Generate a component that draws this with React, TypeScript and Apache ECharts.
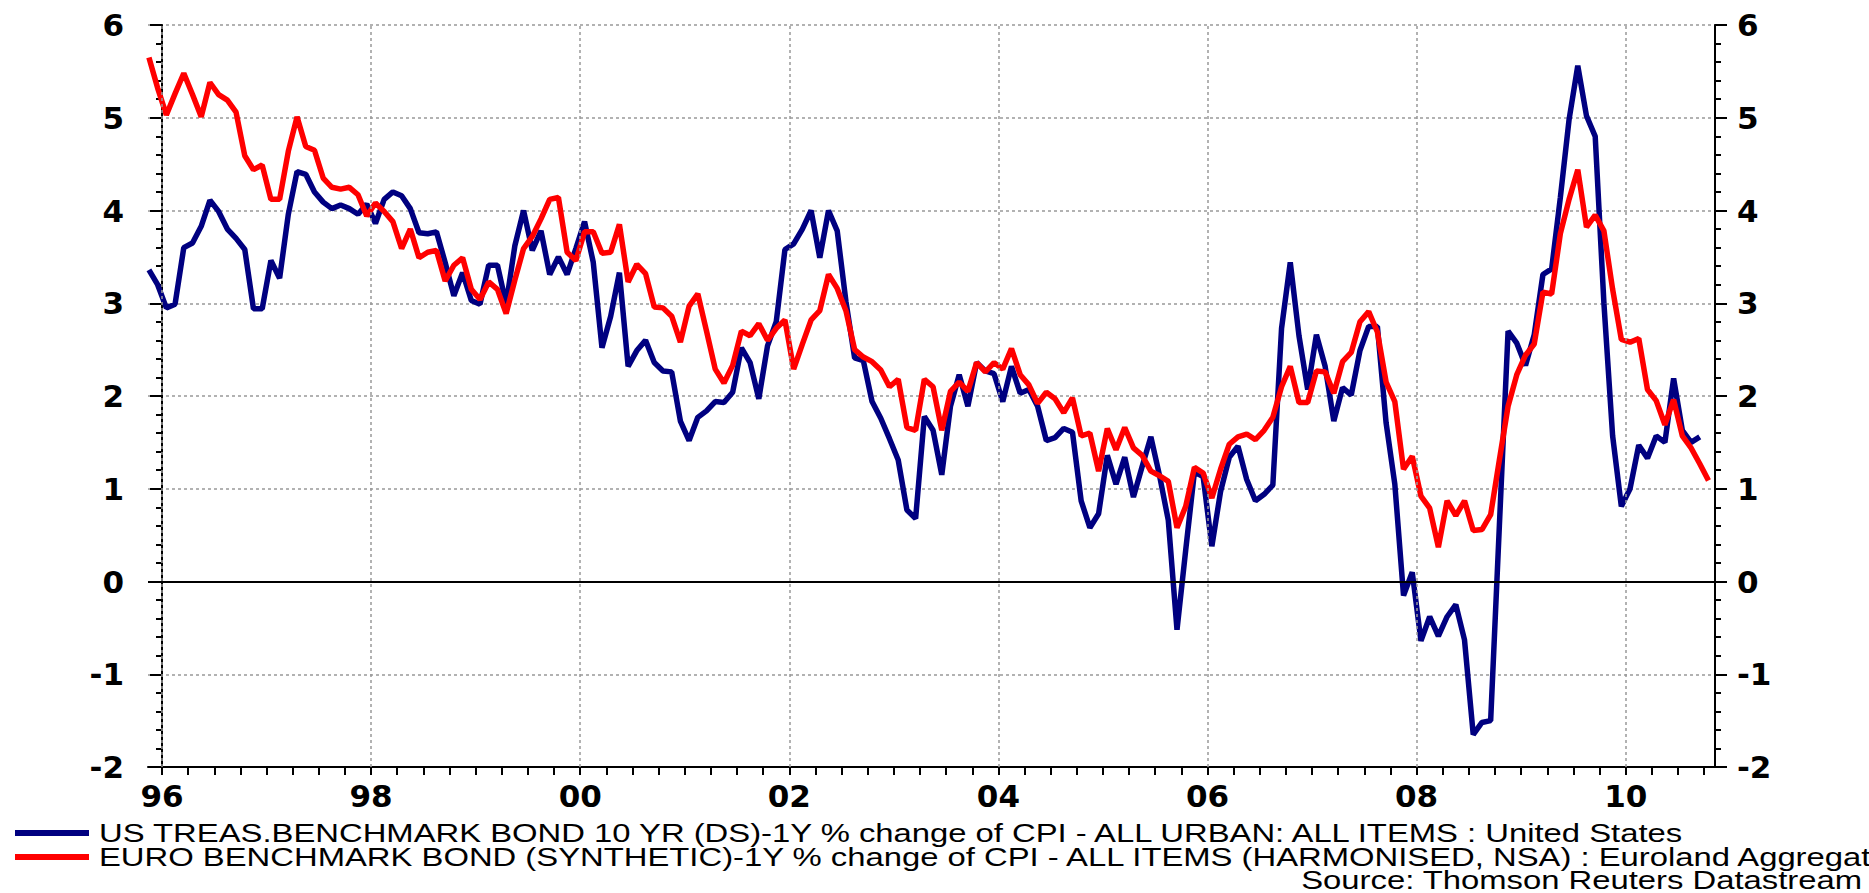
import React, { useEffect, useRef } from "react";
import * as echarts from "echarts";

// Months counted from Jan 1996 (0 = Jan 96); first observation is Nov 1995, plotted mid-month.
const FIRST_MONTH = -2;

const usValues = [
  3.36, 3.2, 2.95, 2.99, 3.6, 3.65, 3.83, 4.11, 3.99, 3.8, 3.7, 3.58, 2.94, 2.94,
  3.46, 3.27, 3.96, 4.42, 4.39, 4.2, 4.09, 4.02, 4.06, 4.02, 3.96, 4.07,
  3.86, 4.12, 4.2, 4.16, 4.02, 3.76, 3.75, 3.77, 3.44, 3.08, 3.33, 3.03,
  2.99, 3.41, 3.41, 2.99, 3.62, 4.0, 3.57, 3.78, 3.31, 3.5, 3.31, 3.59,
  3.88, 3.44, 2.52, 2.86, 3.33, 2.32, 2.49, 2.6, 2.36, 2.27, 2.26, 1.73,
  1.52, 1.77, 1.84, 1.94, 1.93, 2.04, 2.52, 2.36, 1.97, 2.54, 2.8, 3.58,
  3.64, 3.8, 4.0, 3.49, 4.0, 3.78, 3.02, 2.41, 2.38, 1.94, 1.76, 1.54,
  1.31, 0.77, 0.68, 1.78, 1.63, 1.15, 1.89, 2.23, 1.89, 2.36, 2.27, 2.24,
  1.94, 2.32, 2.03, 2.07, 1.89, 1.52, 1.55, 1.65, 1.61, 0.87, 0.58, 0.73,
  1.36, 1.05, 1.34, 0.91, 1.24, 1.56, 1.14, 0.66, -0.52, 0.34, 1.18, 1.13,
  0.38, 0.97, 1.34, 1.46, 1.1, 0.87, 0.94, 1.04, 2.73, 3.44, 2.65, 2.07,
  2.66, 2.32, 1.73, 2.09, 2.01, 2.49, 2.75, 2.75, 1.71, 1.05, -0.15, 0.1,
  -0.64, -0.38, -0.59, -0.38, -0.25, -0.63, -1.65, -1.52, -1.5, 0.6, 2.7, 2.57,
  2.33, 2.66, 3.31, 3.37, 4.14, 4.98, 5.56, 5.02, 4.8, 3.0, 1.57, 0.81,
  1.0, 1.47, 1.33, 1.57, 1.5, 2.19, 1.63, 1.5, 1.56,
];

const euroValues = [
  5.65, 5.32, 5.03, 5.26, 5.48, 5.25, 5.01, 5.38, 5.25, 5.19, 5.06, 4.59, 4.44, 4.49,
  4.12, 4.12, 4.64, 5.01, 4.69, 4.65, 4.35, 4.25, 4.23, 4.25, 4.17, 3.94,
  4.08, 3.99, 3.88, 3.59, 3.8, 3.49, 3.55, 3.57, 3.24, 3.41, 3.49, 3.15,
  3.04, 3.23, 3.15, 2.89, 3.25, 3.59, 3.72, 3.91, 4.12, 4.14, 3.55, 3.46,
  3.77, 3.77, 3.54, 3.55, 3.85, 3.23, 3.42, 3.32, 2.96, 2.95, 2.86, 2.58,
  2.97, 3.1, 2.7, 2.29, 2.14, 2.33, 2.7, 2.65, 2.78, 2.6, 2.73, 2.82,
  2.29, 2.56, 2.82, 2.92, 3.31, 3.16, 2.92, 2.5, 2.42, 2.37, 2.28, 2.1,
  2.18, 1.66, 1.63, 2.18, 2.1, 1.63, 2.05, 2.15, 2.05, 2.36, 2.26, 2.36,
  2.29, 2.51, 2.23, 2.12, 1.92, 2.04, 1.97, 1.82, 1.98, 1.57, 1.6, 1.19,
  1.65, 1.42, 1.66, 1.44, 1.36, 1.19, 1.14, 1.08, 0.58, 0.81, 1.23, 1.17,
  0.9, 1.21, 1.48, 1.56, 1.59, 1.53, 1.63, 1.77, 2.1, 2.32, 1.93, 1.93,
  2.27, 2.26, 2.03, 2.37, 2.47, 2.8, 2.91, 2.69, 2.15, 1.94, 1.21, 1.35,
  0.92, 0.79, 0.37, 0.87, 0.71, 0.87, 0.55, 0.56, 0.72, 1.31, 1.89, 2.23,
  2.44, 2.56, 3.12, 3.1, 3.75, 4.12, 4.44, 3.82, 3.95, 3.78, 3.15, 2.61,
  2.58, 2.62, 2.07, 1.95, 1.69, 1.96, 1.57, 1.44, 1.27, 1.09,
];

// x-axis labels every two years (months since Jan 1996) and quarterly ticks
const xLabelMonths = [0, 24, 48, 72, 96, 120, 144, 168];
const xTickMonths: number[] = [];
for (let m = 0; m <= 177; m += 3) xTickMonths.push(m);

const US_NAME =
  "US TREAS.BENCHMARK BOND 10 YR (DS)-1Y % change of CPI - ALL URBAN: ALL ITEMS : United States";
const EURO_NAME =
  "EURO BENCHMARK BOND (SYNTHETIC)-1Y % change of CPI - ALL ITEMS (HARMONISED, NSA) : Euroland Aggregat";
const SOURCE_TEXT = "Source: Thomson Reuters Datastream";

const BLUE = "#000080";
const RED = "#ff0000";

export default function App() {
  const ref = useRef<HTMLDivElement>(null);

  useEffect(() => {
    const chart = echarts.init(ref.current!, null, { renderer: "svg" });

    const toPoints = (vals: number[]) =>
      vals.map((v, i) => [FIRST_MONTH + i + 0.5, v]);

    const labelFont = {
      fontFamily: "DejaVu Sans",
      fontWeight: "bold" as const,
      fontSize: 31,
      color: "#000",
    };

    const yAxisBase = {
      type: "value" as const,
      min: -2,
      max: 6,
      interval: 1,
      axisLine: { show: true, lineStyle: { color: "#000", width: 2 } },
      axisTick: { show: true, length: 12, inside: false, lineStyle: { color: "#000", width: 2 } },
      minorTick: { show: true, splitNumber: 5, length: 6, lineStyle: { color: "#000", width: 2 } },
      minorSplitLine: { show: false },
    };

    const textStyle = (text: string, align: string, vAlign: string) => ({
      text,
      fontFamily: "Liberation Sans",
      fontSize: 25,
      fill: "#000",
      align,
      verticalAlign: vAlign,
    });

    chart.setOption({
      animation: false,
      backgroundColor: "#fff",
      grid: { left: 148, right: 154, top: 25, bottom: 126, show: false },
      xAxis: {
        type: "value",
        min: -1.607,
        max: 178.25,
        axisLine: { show: true, onZero: false, lineStyle: { color: "#000", width: 2 } },
        axisTick: {
          show: true,
          customValues: xTickMonths,
          length: 8,
          lineStyle: { color: "#000", width: 2 },
        },
        axisLabel: {
          ...labelFont,
          margin: 13,
          customValues: xLabelMonths,
          formatter: (v: number) => String((96 + Math.round(v / 12)) % 100).padStart(2, "0"),
        },
        splitLine: { show: false },
      },
      yAxis: [
        {
          ...yAxisBase,
          position: "left",
          axisLabel: { ...labelFont, margin: 24 },
          splitLine: { show: true, lineStyle: { color: "#999", type: [3, 3], width: 1.5 } },
        },
        {
          ...yAxisBase,
          position: "right",
          axisLabel: { ...labelFont, margin: 22 },
          splitLine: { show: false },
        },
      ],
      series: [
        {
          type: "line",
          name: "grid",
          data: [],
          z: 1,
          silent: true,
          markLine: {
            silent: true,
            symbol: ["none", "none"],
            label: { show: false },
            animation: false,
            data: [
              ...xLabelMonths.map((m) => ({
                xAxis: m,
                lineStyle: { color: "#999", type: [3, 3], width: 1.5 },
              })),
              { yAxis: 0, lineStyle: { color: "#000", type: "solid", width: 2 } },
            ],
          },
        },
        {
          type: "line",
          name: US_NAME,
          data: toPoints(usValues),
          showSymbol: false,
          lineStyle: { color: BLUE, width: 5.5 },
          itemStyle: { color: BLUE },
          z: 3,
        },
        {
          type: "line",
          name: EURO_NAME,
          data: toPoints(euroValues),
          showSymbol: false,
          lineStyle: { color: RED, width: 5.5 },
          itemStyle: { color: RED },
          z: 4,
        },
      ],
      graphic: [
        { type: "line", shape: { x1: 15, y1: 833, x2: 89, y2: 833 }, style: { stroke: BLUE, lineWidth: 6 } },
        { type: "line", shape: { x1: 15, y1: 857, x2: 89, y2: 857 }, style: { stroke: RED, lineWidth: 6 } },
        { type: "text", x: 99, y: 833, scaleX: 1.312, style: textStyle(US_NAME, "left", "middle") },
        { type: "text", x: 99, y: 857, scaleX: 1.312, style: textStyle(EURO_NAME, "left", "middle") },
        { type: "text", x: 1862, y: 893, scaleX: 1.312, style: textStyle(SOURCE_TEXT, "right", "bottom") },
      ],
    });

    return () => chart.dispose();
  }, []);

  return (
    <div
      ref={ref}
      style={{ position: "fixed", left: 0, top: 0, width: 1869, height: 893, background: "#fff" }}
    />
  );
}
